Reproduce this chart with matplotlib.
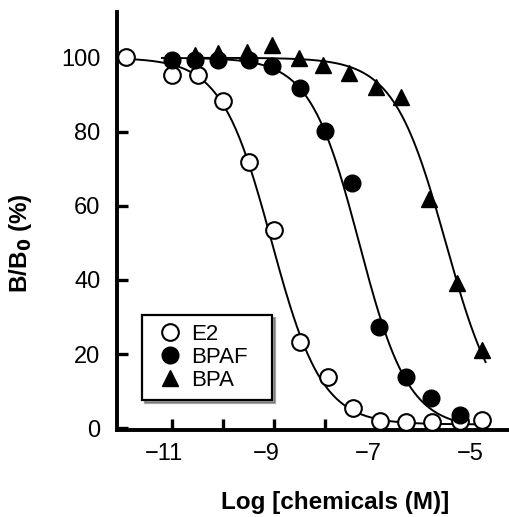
import numpy as np
import matplotlib
matplotlib.use("Agg")
import matplotlib.pyplot as plt
import matplotlib.transforms as mtransforms
from matplotlib.lines import Line2D

plt.rcParams["font.family"] = ["Liberation Sans", "DejaVu Sans"]
plt.rcParams["axes.unicode_minus"] = True

# Competitive binding data: log concentration (M) vs. B/B0 (%)
e2_x = [-11.9, -11.0, -10.5, -10.0, -9.5, -9.0, -8.5, -7.95, -7.45, -6.92, -6.41, -5.9, -5.35, -4.92]
e2_y = [100.3, 95.4, 95.4, 88.4, 71.9, 53.5, 23.2, 13.8, 5.4, 1.9, 1.6, 1.6, 1.9, 2.2]

bpaf_x = [-11.0, -10.55, -10.1, -9.5, -9.04, -8.5, -8.0, -7.47, -6.94, -6.41, -5.92, -5.35]
bpaf_y = [99.5, 99.5, 99.5, 99.5, 97.8, 91.9, 80.3, 66.2, 27.2, 13.8, 8.2, 3.6]

bpa_x = [-10.55, -10.1, -9.53, -9.04, -8.52, -8.04, -7.53, -7.0, -6.5, -5.96, -5.41, -4.92]
bpa_y = [100.8, 101.3, 101.6, 103.5, 100.0, 98.0, 96.0, 92.2, 89.5, 62.0, 39.2, 21.0]

# Fitted logistic parameters: (logIC50, Hill slope, bottom, top, x-start, x-end)
e2_fit = (-9.05, 0.88, 1.0, 100.0, -11.9, -4.85)
bpaf_fit = (-7.33, 0.90, 0.0, 100.0, -11.2, -5.25)
bpa_fit = (-5.63, 0.85, 0.0, 100.0, -10.6, -4.85)

x_ticks = [-11, -10, -9, -8, -7, -6, -5]
x_ticklabels = ["\u221211", "", "\u22129", "", "\u22127", "", "\u22125"]
y_ticks = [0, 20, 40, 60, 80, 100]


def logistic(x, c, h, bottom, top):
    return bottom + (top - bottom) / (1.0 + 10.0 ** ((x - c) * h))


fig = plt.figure(figsize=(5.09, 5.17), dpi=100)
ax = fig.add_axes([0.23, 0.168, 0.77, 0.809])

for fit in (e2_fit, bpaf_fit, bpa_fit):
    c, h, b, t, x0, x1 = fit
    xs = np.linspace(x0, x1, 300)
    ax.plot(xs, logistic(xs, c, h, b, t), color="black", lw=1.4, zorder=2)

ms = 12
tms = 11
ax.plot(e2_x, e2_y, "o", ms=ms, mfc="white", mec="black", mew=1.5, zorder=3, clip_on=False)
ax.plot(bpaf_x, bpaf_y, "o", ms=ms, mfc="black", mec="black", mew=1.0, zorder=4, clip_on=False)
ax.plot(bpa_x, bpa_y, "^", ms=tms, mfc="black", mec="black", mew=1.0, zorder=4, clip_on=False)

ax.set_xlim(-12.08, -4.39)
ax.set_ylim(-0.55, 112.4)

for side in ("top", "right"):
    ax.spines[side].set_visible(False)
for side in ("left", "bottom"):
    ax.spines[side].set_linewidth(2.8)

ax.set_xticks(x_ticks)
ax.set_xticklabels(x_ticklabels)
ax.set_yticks(y_ticks)
ax.tick_params(axis="both", direction="in", length=8, width=2.4, labelsize=17)
ax.tick_params(axis="x", pad=9)
ax.tick_params(axis="y", pad=12)

# shift x labels so the digits sit over the tick and the minus hangs left
shift = mtransforms.ScaledTranslation(-8 / 100, 0, fig.dpi_scale_trans)
for lab in ax.get_xticklabels():
    lab.set_transform(lab.get_transform() + shift)

ax.set_xlabel("Log [chemicals (M)]", fontsize=17.5, fontweight="bold")
ax.xaxis.set_label_coords(0.556, -0.146)
ax.set_ylabel(r"B/B$_{\mathbf{0}}$ (%)", fontsize=17.5, fontweight="bold")
ax.yaxis.set_label_coords(-0.212, 0.447)

handles = [
    Line2D([], [], ls="none", marker="o", ms=ms, mfc="white", mec="black", mew=1.5),
    Line2D([], [], ls="none", marker="o", ms=ms, mfc="black", mec="black"),
    Line2D([], [], ls="none", marker="^", ms=tms, mfc="black", mec="black"),
]
leg = ax.legend(handles, ["E2", "BPAF", "BPA"], loc="lower left",
                bbox_to_anchor=(0.064, 0.072, 0.331, 0.2), mode="expand",
                borderaxespad=0, fontsize=16, frameon=True, fancybox=False,
                shadow=True, handlelength=1.7, handletextpad=0.1,
                labelspacing=0.1, borderpad=0.4)
leg.get_frame().set_edgecolor("black")
leg.get_frame().set_linewidth(1.6)

fig.savefig("out.png", dpi=100, facecolor="white")
